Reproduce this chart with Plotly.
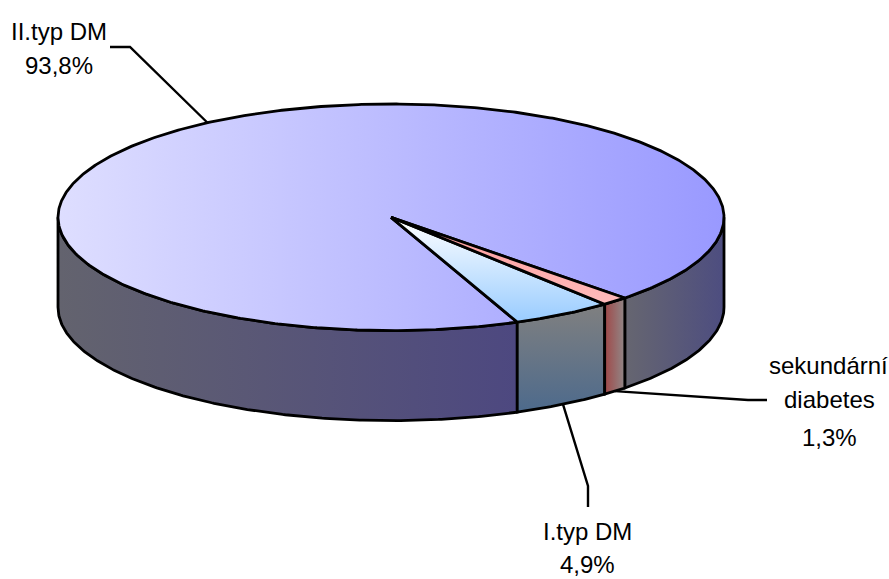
import numpy as np
import plotly.graph_objects as go

categories = ["sekundární diabetes", "I.typ DM", "II.typ DM"]
values = [1.3, 4.9, 93.8]
value_labels = ["1,3%", "4,9%", "93,8%"]

CX, CY, RX, RY, DEPTH = 391, 217.3, 333, 113.3, 90
START = 45.4
FONT = "Liberation Sans"
FS = 24
LW = 2.8

spans = [v / sum(values) * 360 for v in values]
edges = START + np.cumsum([0] + spans)


def arc(a, b, dy=0.0, n=None):
    n = n or max(int(abs(b - a)) * 2, 8)
    t = np.radians(np.linspace(a, b, n))
    return CX + RX * np.cos(t), CY + dy + RY * np.sin(t)


def rim(a, dy=0.0):
    t = np.radians(a)
    return CX + RX * np.cos(t), CY + dy + RY * np.sin(t)


def side(a, b):
    x1, y1 = arc(a, b)
    x2, y2 = arc(b, a, DEPTH)
    return np.r_[x1, x2, x1[0]], np.r_[y1, y2, y1[0]]


def wedge(a, b):
    x1, y1 = arc(a, b)
    return np.r_[CX, x1, CX], np.r_[CY, y1, CY]


def poly(x, y, kind, c0, c1, start=None, stop=None):
    grad = dict(type=kind, colorscale=[[0, c0], [1, c1]])
    if start is not None:
        grad.update(start=start, stop=stop)
    return go.Scatter(x=x, y=y, mode="lines", fill="toself", fillgradient=grad,
                      line=dict(color="black", width=LW), hoverinfo="skip", showlegend=False)


def leader(pts):
    return go.Scatter(x=[p[0] for p in pts], y=[p[1] for p in pts], mode="lines",
                      line=dict(color="black", width=2.4), hoverinfo="skip", showlegend=False)


fig = go.Figure()

# leader lines start at each slice's mid-angle on the rim
mid = [(edges[i] + edges[i + 1]) / 2 for i in range(3)]
fig.add_trace(leader([rim(mid[0], DEPTH), (748, 400), (767, 400)]))
fig.add_trace(leader([rim(mid[1], DEPTH), (588, 486), (588, 507)]))
fig.add_trace(leader([rim(mid[2]), (130, 47), (110, 47)]))

# outer wall
fig.add_trace(poly(*side(edges[2], 180), "horizontal", "#63636e", "#4d4880"))
fig.add_trace(poly(*side(0, edges[0]), "horizontal", "#666670", "#4d4d80"))
fig.add_trace(poly(*side(edges[1], edges[2]), "vertical", "#4d6a8c", "#808080"))
fig.add_trace(poly(*side(edges[0], edges[1]), "horizontal", "#a04848", "#908888"))

# top face
fig.add_trace(poly(*wedge(edges[2], edges[3]), "horizontal", "#dedeff", "#9999ff", CX - RX, CX + RX))
fig.add_trace(poly(*wedge(edges[1], edges[2]), "vertical", "#99ccff", "#ffffff"))
fig.add_trace(poly(*wedge(edges[0], edges[1]), "vertical", "#ffbbbb", "#ff9999"))

lines = [
    ("II.typ DM", 59, 31), (value_labels[2], 59, 65),
    ("I.typ DM", 587, 531), (value_labels[1], 587, 564),
    ("sekundární", 828, 365), ("diabetes", 829, 399), (value_labels[0], 829, 437),
]
for text, x, y in lines:
    fig.add_annotation(x=x, y=y, text=text, showarrow=False, xanchor="center", yanchor="middle",
                       font=dict(family=FONT, size=FS, color="black"))

fig.update_layout(
    width=889, height=579, margin=dict(l=0, r=0, t=0, b=0),
    paper_bgcolor="white", plot_bgcolor="white", showlegend=False,
    xaxis=dict(range=[0, 889], visible=False, fixedrange=True),
    yaxis=dict(range=[579, 0], visible=False, fixedrange=True),
)
fig.write_html("out.html", config=dict(displayModeBar=False),
               post_script="document.body.style.margin='0';")
